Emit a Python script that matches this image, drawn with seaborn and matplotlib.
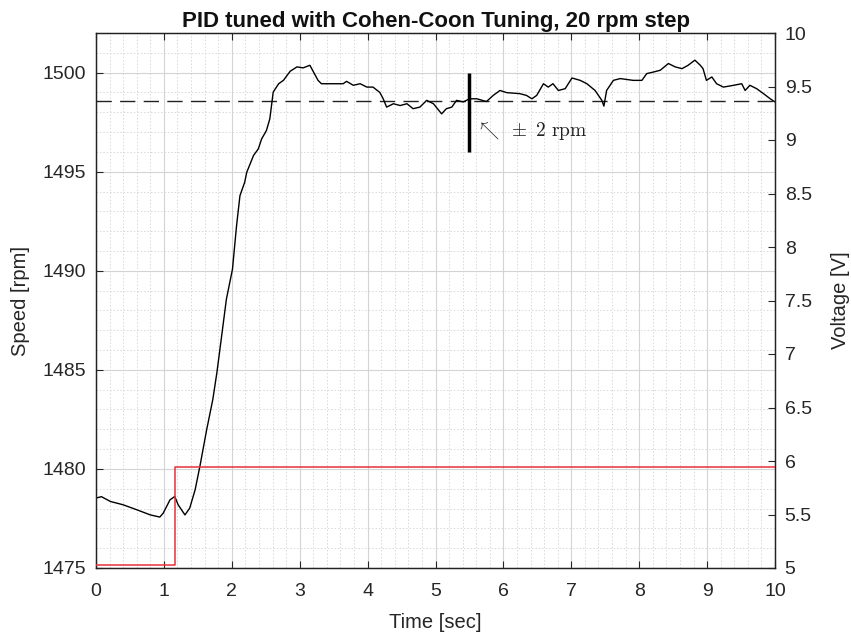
import matplotlib
matplotlib.use("Agg")
import matplotlib.pyplot as plt
from matplotlib.ticker import MultipleLocator
import seaborn as sns
import pandas as pd

# ---- data ----
time_s = [0.0, 0.08, 0.21, 0.40, 0.60, 0.80, 0.94, 0.99, 1.09, 1.16, 1.21, 1.31, 1.38, 1.46,
          1.53, 1.63, 1.72, 1.78, 1.85, 1.92, 2.01, 2.07, 2.12, 2.19, 2.22, 2.32, 2.39, 2.44,
          2.51, 2.56, 2.61, 2.69, 2.76, 2.86, 2.96, 3.05, 3.15, 3.27, 3.32, 3.45, 3.64, 3.69,
          3.79, 3.89, 3.99, 4.08, 4.18, 4.23, 4.28, 4.38, 4.48, 4.58, 4.67, 4.77, 4.87, 4.97,
          5.09, 5.16, 5.24, 5.31, 5.41, 5.50, 5.61, 5.75, 5.85, 5.95, 6.05, 6.24, 6.34, 6.42,
          6.49, 6.59, 6.66, 6.73, 6.81, 6.91, 7.01, 7.13, 7.23, 7.35, 7.45, 7.48, 7.52, 7.62,
          7.72, 7.91, 8.04, 8.11, 8.21, 8.31, 8.43, 8.53, 8.63, 8.72, 8.82, 8.90, 8.94, 8.99,
          9.07, 9.14, 9.24, 9.39, 9.51, 9.56, 9.63, 9.73, 9.83, 9.93, 10.0]
speed_rpm = [1478.53, 1478.60, 1478.36, 1478.19, 1477.94, 1477.68, 1477.57, 1477.77, 1478.44,
             1478.61, 1478.19, 1477.68, 1478.02, 1478.95, 1480.13, 1481.98, 1483.50, 1484.85,
             1486.70, 1488.56, 1490.08, 1492.27, 1493.79, 1494.47, 1494.97, 1495.82, 1496.15,
             1496.66, 1497.08, 1497.67, 1499.02, 1499.44, 1499.61, 1500.07, 1500.29, 1500.24,
             1500.37, 1499.61, 1499.44, 1499.44, 1499.44, 1499.56, 1499.36, 1499.44, 1499.27,
             1499.27, 1499.00, 1498.68, 1498.26, 1498.43, 1498.34, 1498.43, 1498.18, 1498.26,
             1498.60, 1498.43, 1497.92, 1498.18, 1498.26, 1498.60, 1498.52, 1498.68, 1498.68,
             1498.54, 1498.85, 1499.10, 1498.99, 1498.94, 1498.85, 1498.68, 1498.85, 1499.44,
             1499.27, 1499.44, 1499.10, 1499.19, 1499.73, 1499.61, 1499.44, 1499.10, 1498.60,
             1498.31, 1499.10, 1499.61, 1499.70, 1499.61, 1499.61, 1499.95, 1500.03, 1500.12,
             1500.46, 1500.29, 1500.20, 1500.37, 1500.63, 1500.37, 1500.20, 1499.61, 1499.78,
             1499.44, 1499.27, 1499.36, 1499.44, 1499.10, 1499.36, 1499.19, 1498.94, 1498.68,
             1498.52]

volt_time = [0.0, 1.17, 1.17, 10.0]
voltage_v = [5.03, 5.03, 5.94, 5.94]

setpoint_rpm = 1498.55
band_time = 5.5
band_rpm = [1496.0, 1500.0]

x_ticks = list(range(0, 11))
left_ticks = [1475, 1480, 1485, 1490, 1495, 1500]
right_ticks = [5, 5.5, 6, 6.5, 7, 7.5, 8, 8.5, 9, 9.5, 10]

assert len(time_s) == len(speed_rpm)

# ---- plotting ----
sns.set_style("white")
plt.rcParams['font.family'] = ['Liberation Sans', 'DejaVu Sans']
plt.rcParams['mathtext.fontset'] = 'cm'

TXT = "#262626"
fig = plt.figure(figsize=(8.51, 6.39), dpi=100)
ax = fig.add_axes([96/851, 1-568/639, (775-96)/851, (568-33)/639])

df_speed = pd.DataFrame({"t": time_s, "speed": speed_rpm})
df_volt = pd.DataFrame({"t": volt_time, "v": voltage_v})

sns.lineplot(data=df_speed, x="t", y="speed", ax=ax, color="black", lw=1.0,
             sort=False, estimator=None, zorder=3)
ax.axhline(setpoint_rpm, color="#222222", lw=1.0, dashes=(11, 6), zorder=2)
ax.plot([band_time, band_time], band_rpm, color="black", lw=2.5, solid_capstyle="butt", zorder=4)
ax.text(band_time + 0.09, 1497.1, r'$\nwarrow\ \pm\ 2\ \mathrm{rpm}$', fontsize=14,
        va="center", ha="left", color="#222222", zorder=5)

ax.set_xlim(0, 10)
ax.set_ylim(1475, 1502)
ax.set_xticks(x_ticks)
ax.set_yticks(left_ticks)
ax.xaxis.set_minor_locator(MultipleLocator(0.2))
ax.yaxis.set_minor_locator(MultipleLocator(1))
ax.grid(which="major", color="#d4d4d4", lw=0.8, ls="-")
ax.grid(which="minor", color="#d8d8d8", lw=0.7, ls=(0, (1.5, 2)))
ax.set_axisbelow(True)
ax.tick_params(which="major", direction="in", length=5, width=0.8, top=True, left=True,
               bottom=True, right=False, labelsize=14, colors=TXT)
ax.tick_params(axis="x", pad=11)
ax.tick_params(axis="y", pad=7)
ax.tick_params(which="minor", length=0)
ax.set_xlabel("Time [sec]", fontsize=14.5, color=TXT, labelpad=9)
ax.set_ylabel("Speed [rpm]", fontsize=14.5, color=TXT, labelpad=9)
ax.set_title("PID tuned with Cohen-Coon Tuning, 20 rpm step", fontsize=16,
             fontweight="bold", color="#111111", pad=4)

ax2 = ax.twinx()
sns.lineplot(data=df_volt, x="t", y="v", ax=ax2, color="#e8303a", lw=1.1,
             sort=False, estimator=None, zorder=3)
ax2.set_ylim(5, 10)
ax2.set_yticks(right_ticks)
ax2.set_yticklabels([f"{v:g}" for v in right_ticks])
ax2.tick_params(axis="y", direction="in", length=5, width=0.8, labelsize=14, colors=TXT, pad=7)
ax2.set_ylabel("Voltage [V]", fontsize=14.5, color=TXT, labelpad=14)
ax2.grid(False)

for a in (ax, ax2):
    for s in a.spines.values():
        s.set_color("#222222")
        s.set_linewidth(0.9)
        s.set_visible(True)

fig.savefig("out.png", dpi=100)
